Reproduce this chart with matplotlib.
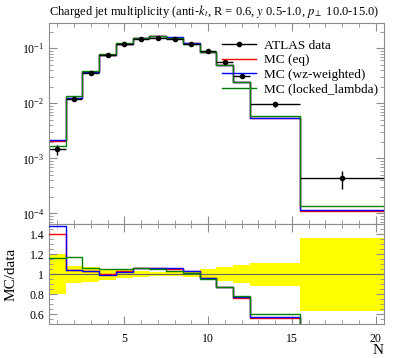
#!/usr/bin/env python3

import numpy as np
import matplotlib
matplotlib.use('Agg')
import matplotlib.pyplot as plt
from matplotlib.ticker import MultipleLocator
from matplotlib.lines import Line2D

plt.rcParams['font.family'] = ['Liberation Serif', 'DejaVu Serif']
plt.rcParams['mathtext.fontset'] = 'stix'

# Bin edges in N
edges = [0.5, 1.5, 2.5, 3.5, 4.5, 5.5, 6.5, 7.5, 8.5, 9.5, 10.5, 11.5, 12.5, 15.5, 20.5]
centres = [1, 2, 3, 4, 5, 6, 7, 8, 9, 10, 11, 12, 14, 18]

# ATLAS data and absolute errors
data = [1.45e-3, 1.18e-2, 3.6e-2, 7.65e-2, 0.118, 0.146, 0.156, 0.148,
        0.120, 0.089, 0.0563, 0.0314, 9.6e-3, 4.4e-4]
data_err = [2.9e-4, 1.0e-3, 2.7e-3, 4.2e-3, 4.7e-3, 4.4e-3, 3.1e-3, 3.0e-3,
            3.6e-3, 4.5e-3, 3.9e-3, 2.8e-3, 1.1e-3, 1.6e-4]

# MC predictions
mc_eq = [2.03e-3, 1.23e-2, 3.71e-2, 7.65e-2, 0.1215, 0.155, 0.165, 0.155,
         0.124, 0.0855, 0.049, 0.0239, 5.4e-3, 1.08e-4]
mc_wz = [2.15e-3, 1.23e-2, 3.71e-2, 7.57e-2, 0.120, 0.155, 0.165, 0.157,
         0.124, 0.0855, 0.049, 0.0242, 5.5e-3, 1.17e-4]
mc_locked = [1.68e-3, 1.38e-2, 3.82e-2, 8.03e-2, 0.124, 0.155, 0.164, 0.152,
             0.121, 0.0845, 0.049, 0.0245, 5.76e-3, 1.35e-4]

mc_sets = [(mc_eq, 'red', 'MC (eq)'),
           (mc_wz, 'blue', 'MC (wz-weighted)'),
           (mc_locked, '#008000', 'MC (locked_lambda)')]

edges = np.array(edges)
data = np.array(data)
data_err = np.array(data_err)


def steps(vals):
    # repeat last value so step='post' closes the final bin
    return np.append(vals, vals[-1])


fig = plt.figure(figsize=(3.97, 3.58), dpi=100)
ax = fig.add_axes([0.1234, 0.3743, 0.8438, 0.5615])
rax = fig.add_axes([0.1234, 0.0941, 0.8438, 0.2802], sharex=ax)

# main panel
handles = []
for vals, col, lab in mc_sets:
    h, = ax.step(edges, steps(np.array(vals)), where='post', color=col, lw=1.0, label=lab)
    handles.append(h)

xerr = [np.array(centres) - edges[:-1], edges[1:] - np.array(centres)]
ax.errorbar(centres, data, yerr=data_err, xerr=xerr, fmt='o', color='black',
            ms=3, lw=1.0, capsize=0)
hd = Line2D([], [], color='black', lw=1.0, marker='o', ms=3)

ax.set_yscale('log')
ax.set_xlim(0.5, 20.5)
ax.set_ylim(6.4e-5, 0.288)
ax.tick_params(labelbottom=False)

ax.legend([hd] + handles, ['ATLAS data'] + [m[2] for m in mc_sets],
          loc='upper left', bbox_to_anchor=(0.5, 0.945), frameon=False,
          fontsize=9.5, handlelength=2.6, handletextpad=0.6, labelspacing=0.18,
          borderaxespad=0)

ax.set_title(r'Charged jet multiplicity (anti-$k_t$, R = 0.6, $y$ 0.5-1.0, $p_\perp$ 10.0-15.0)',
             loc='left', fontsize=9, pad=6)

# ratio panel
band_lo = 1 - data_err / data
band_hi = 1 + data_err / data
rax.fill_between(edges, steps(band_lo), steps(band_hi), step='post',
                 color='yellow', lw=0, zorder=1)
rax.axhline(1.0, color='0.4', lw=0.8, zorder=2)
for vals, col, lab in mc_sets:
    rax.step(edges, steps(np.array(vals) / data), where='post', color=col, lw=1.0, zorder=3)

rax.set_ylim(0.5, 1.5)
rax.set_yticks([0.6, 0.8, 1.0, 1.2, 1.4])
rax.set_yticklabels(['0.6', '0.8', '1', '1.2', '1.4'])
rax.yaxis.set_minor_locator(MultipleLocator(0.05))
rax.set_xticks([5, 10, 15, 20])
rax.xaxis.set_minor_locator(MultipleLocator(1))
rax.set_ylabel('MC/data', fontsize=11)
rax.yaxis.set_label_coords(-0.095, 0.5)
rax.set_xlabel('N', fontsize=11, ha='right')
rax.xaxis.set_label_coords(1.0, -0.2)

for a in (ax, rax):
    for s in a.spines.values():
        s.set_color('0.55')
    a.tick_params(which='both', direction='in', top=True, right=True,
                  color='0.55', labelsize=8.5)
    a.tick_params(which='major', length=6)
    a.tick_params(which='minor', length=3)
rax.tick_params(axis='x', pad=6)

plt.savefig('out.png', dpi=100)
